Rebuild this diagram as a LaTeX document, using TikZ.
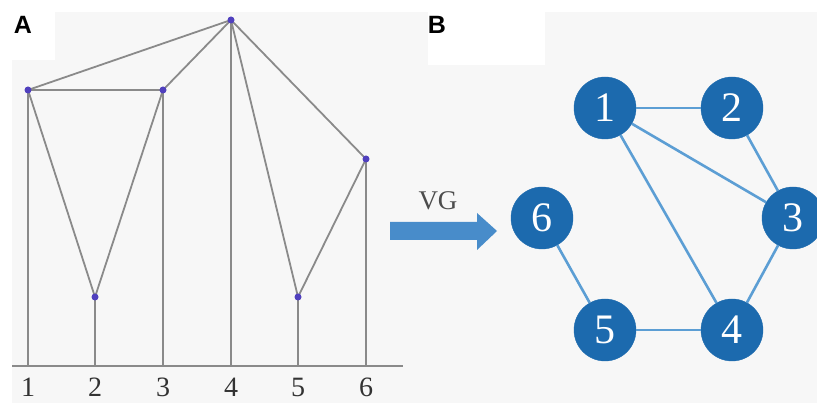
\documentclass[tikz,border=0pt]{standalone}
\usepackage{fontspec}
\setmainfont{Liberation Serif}
\newfontfamily\panelfont{Liberation Sans}
\usetikzlibrary{positioning, calc}
\definecolor{bggray}{RGB}{247,247,247}
\definecolor{linegray}{RGB}{138,138,138}
\definecolor{dotblue}{RGB}{80,64,190}
\definecolor{nodeblue}{RGB}{28,106,174}
\definecolor{edgeblue}{RGB}{92,158,212}
\definecolor{arrblue}{RGB}{72,140,202}

\begin{document}
\begin{tikzpicture}[
  x=1pt, y=-1pt,
  panel/.style={font=\panelfont\bfseries\fontsize{25}{25}\selectfont},
  bar/.style={draw=linegray, line width=1.8pt},
  tick/.style={font=\fontsize{28}{28}\selectfont, text=black!80, inner sep=1pt},
  vnode/.style={circle, fill=nodeblue, draw=nodeblue, minimum size=62pt, inner sep=0pt, text=white, font=\fontsize{42}{42}\selectfont},
  vedge/.style={draw=edgeblue, line width=2.6pt}
]
\useasboundingbox (0,0) rectangle (817,403);

% background
\fill[bggray] (12,12) rectangle (817,403);
\fill[white] (0,0) rectangle (55,60);
\fill[white] (428,12) rectangle (545,65);

\node[panel] (A) at (23,25) {A};
\node[panel] (B) at (437,25) {B};

% A: series as bars
\coordinate (p1) at (28,90);
\coordinate (p2) at (95,297);
\coordinate (p3) at (163,90);
\coordinate (p4) at (231,20);
\coordinate (p5) at (298,297);
\coordinate (p6) at (366,159);
\coordinate (axl) at (12,366);
\coordinate (axr) at (403,366);

\draw[bar] (axl) -- (axr);
\foreach \i in {1,...,6}
  \draw[bar] (p\i) -- (p\i |- axl);

% visibility lines
\draw[bar] (p1) -- (p2);
\draw[bar] (p1) -- (p3);
\draw[bar] (p1) -- (p4);
\draw[bar] (p2) -- (p3);
\draw[bar] (p3) -- (p4);
\draw[bar] (p4) -- (p5);
\draw[bar] (p4) -- (p6);
\draw[bar] (p5) -- (p6);

\foreach \i in {1,...,6} {
  \fill[dotblue] (p\i) circle (3.5);
  \node[tick] (t\i) at ($(p\i |- axl)+(0,21)$) {\i};
}

% VG arrow
\node[font=\fontsize{27}{27}\selectfont, text=black!70] (vg) at (438,201) {VG};
\fill[arrblue] (390,222) -- (477,222) -- (477,213) -- (497,231)
  -- (477,250) -- (477,240) -- (390,240) -- cycle;

% B: visibility graph
\node[vnode] (v1) at (605,108) {1};
\node[vnode] (v2) at (732,108) {2};
\node[vnode] (v3) at (793,218) {3};
\node[vnode] (v4) at (732,330) {4};
\node[vnode] (v5) at (605,330) {5};
\node[vnode] (v6) at (542,218) {6};

\draw[vedge] (v1) -- (v2);
\draw[vedge] (v1) -- (v3);
\draw[vedge] (v1) -- (v4);
\draw[vedge] (v2) -- (v3);
\draw[vedge] (v3) -- (v4);
\draw[vedge] (v4) -- (v5);
\draw[vedge] (v5) -- (v6);

\end{tikzpicture}
\end{document}
